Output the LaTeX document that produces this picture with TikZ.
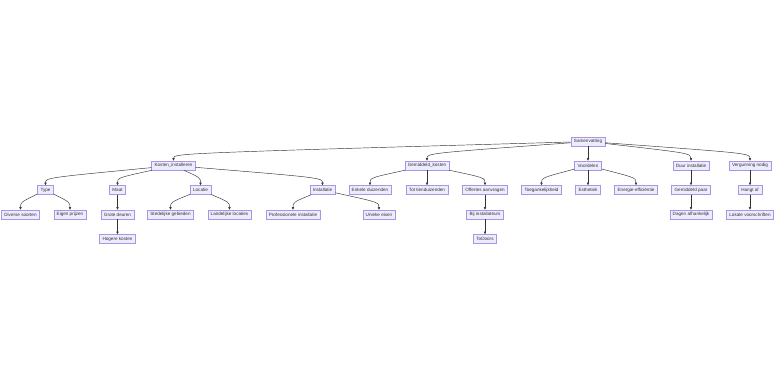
\documentclass[tikz,border=0pt]{standalone}
\usepackage{fontspec}
\setmainfont{Liberation Sans}
\usetikzlibrary{calc,arrows.meta}

\definecolor{boxfill}{HTML}{ECECFF}
\definecolor{boxline}{HTML}{9370DB}
\definecolor{ink}{HTML}{333333}

\begin{document}
\begin{tikzpicture}[x=1pt, y=-1pt,
    box/.style={draw=boxline!75, fill=boxfill, line width=0.4pt, text=ink,
        font=\fontsize{4.6}{5.5}\selectfont, inner xsep=3pt, inner ysep=0pt,
        minimum height=9pt},
    edge/.style={draw=ink, line width=0.45pt, -{Latex[length=2.6pt,width=2.6pt]}}]

    \useasboundingbox[fill=white] (0, 0) rectangle (784, 381);

    % top
    \node[box] (samen) at (588, 141.5) {Samenvatting};

    % second row
    \node[box] (kosten) at (173.5, 165.5) {Kosten\_installeren};
    \node[box] (gemkosten) at (427, 165.5) {Gemiddeld\_kosten};
    \node[box] (voordelen) at (588, 165.5) {Voordelen};
    \node[box] (duur) at (691, 165.5) {Duur installatie};
    \node[box] (vergunning) at (750, 165.5) {Vergunning nodig};

    % third row
    \node[box] (type) at (45.5, 190) {Type};
    \node[box] (maat) at (117.5, 190) {Maat};
    \node[box] (locatie) at (200.5, 190) {Locatie};
    \node[box] (install) at (322.5, 190) {Installatie};
    \node[box] (enkele) at (370, 190) {Enkele duizenden};
    \node[box] (tien) at (427, 190) {Tot tienduizenden};
    \node[box] (offertes) at (485, 190) {Offertes aanvragen};
    \node[box] (toegank) at (541.5, 190) {Toegankelijkheid};
    \node[box] (esthetiek) at (588, 190) {Esthetiek};
    \node[box] (energie) at (636, 190) {Energie-efficiëntie};
    \node[box] (gempaar) at (691, 190) {Gemiddeld paar};
    \node[box] (hangt) at (750, 190) {Hangt af};

    % fourth row
    \node[box] (diverse) at (20.5, 214.5) {Diverse soorten};
    \node[box] (eigen) at (70, 214.5) {Eigen prijzen};
    \node[box] (grote) at (117.5, 214.5) {Grote deuren};
    \node[box] (stedelijk) at (170.5, 214.5) {Stedelijke gebieden};
    \node[box] (landelijk) at (229.5, 214.5) {Landelijke locaties};
    \node[box] (prof) at (293, 214.5) {Professionele installatie};
    \node[box] (unieke) at (379, 214.5) {Unieke eisen};
    \node[box] (bij) at (485, 214.5) {Bij installateurs};
    \node[box] (dagen) at (691, 214.5) {Dagen afhankelijk};
    \node[box] (lokale) at (750, 214.5) {Lokale voorschriften};

    % fifth row
    \node[box] (hogere) at (117.5, 239) {Hogere kosten};
    \node[box] (todoors) at (485, 239) {ToDoors};

    % edges from Samenvatting
    \draw[edge] (samen) .. controls ($(kosten.north)+(0,-7.5)$) .. (kosten.north);
    \draw[edge] (samen) .. controls ($(gemkosten.north)+(0,-7.5)$) .. (gemkosten.north);
    \draw[edge] (samen) -- (voordelen);
    \draw[edge] (samen) .. controls ($(duur.north)+(0,-7.5)$) .. (duur.north);
    \draw[edge] (samen) .. controls ($(vergunning.north)+(0,-7.5)$) .. (vergunning.north);

    % edges from Kosten_installeren
    \draw[edge] (kosten) .. controls ($(type.north)+(0,-7.5)$) .. (type.north);
    \draw[edge] (kosten) .. controls ($(maat.north)+(0,-7.5)$) .. (maat.north);
    \draw[edge] (kosten) .. controls ($(locatie.north)+(0,-7.5)$) .. (locatie.north);
    \draw[edge] (kosten) .. controls ($(install.north)+(0,-7.5)$) .. (install.north);

    \draw[edge] (type) .. controls ($(diverse.north)+(0,-7.5)$) .. (diverse.north);
    \draw[edge] (type) .. controls ($(eigen.north)+(0,-7.5)$) .. (eigen.north);
    \draw[edge] (maat) -- (grote);
    \draw[edge] (grote) -- (hogere);
    \draw[edge] (locatie) .. controls ($(stedelijk.north)+(0,-7.5)$) .. (stedelijk.north);
    \draw[edge] (locatie) .. controls ($(landelijk.north)+(0,-7.5)$) .. (landelijk.north);
    \draw[edge] (install) .. controls ($(prof.north)+(0,-7.5)$) .. (prof.north);
    \draw[edge] (install) .. controls ($(unieke.north)+(0,-7.5)$) .. (unieke.north);

    % edges from Gemiddeld_kosten
    \draw[edge] (gemkosten) .. controls ($(enkele.north)+(0,-7.5)$) .. (enkele.north);
    \draw[edge] (gemkosten) -- (tien);
    \draw[edge] (gemkosten) .. controls ($(offertes.north)+(0,-7.5)$) .. (offertes.north);
    \draw[edge] (offertes) -- (bij);
    \draw[edge] (bij) -- (todoors);

    % edges from Voordelen
    \draw[edge] (voordelen) .. controls ($(toegank.north)+(0,-7.5)$) .. (toegank.north);
    \draw[edge] (voordelen) -- (esthetiek);
    \draw[edge] (voordelen) .. controls ($(energie.north)+(0,-7.5)$) .. (energie.north);

    % duur and vergunning
    \draw[edge] (duur) -- (gempaar);
    \draw[edge] (gempaar) -- (dagen);
    \draw[edge] (vergunning) -- (hangt);
    \draw[edge] (hangt) -- (lokale);

\end{tikzpicture}
\end{document}
